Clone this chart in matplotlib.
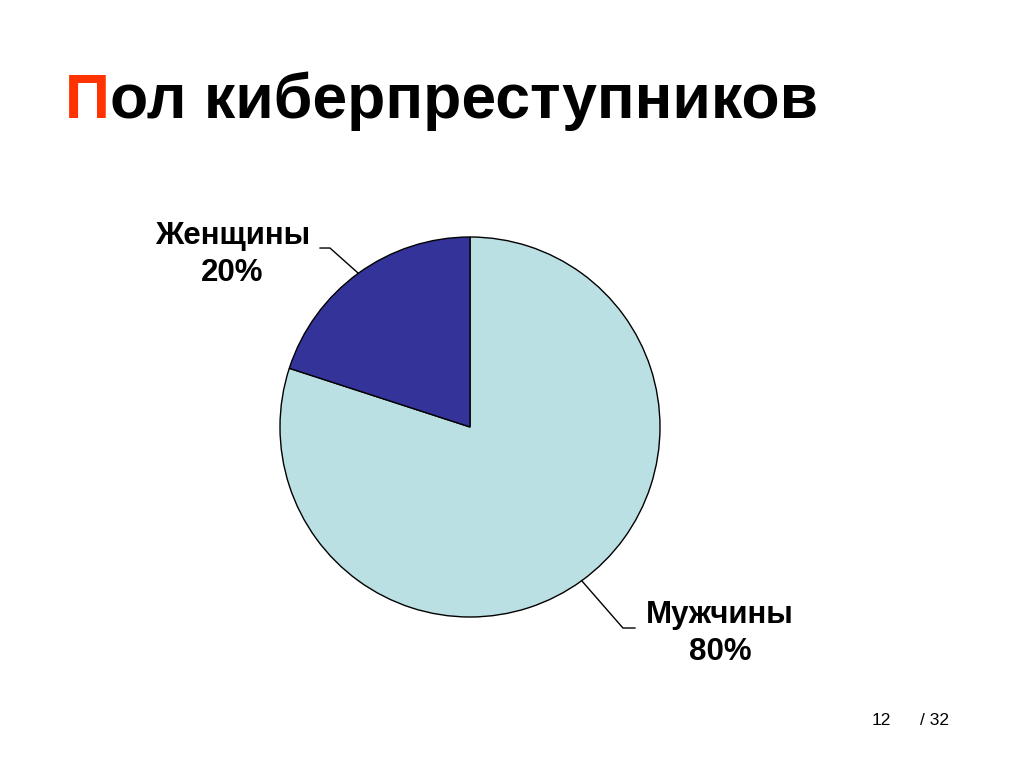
import numpy as np
import matplotlib
matplotlib.use('Agg')
import matplotlib.pyplot as plt

# Data
labels = ['Мужчины', 'Женщины']
shares = [80, 20]
colors = ['#BBE0E3', '#333399']
title = 'Пол киберпреступников'
page = '12'
total = '/ 32'

plt.rcParams['font.family'] = ['Liberation Sans', 'DejaVu Sans']

W, H = 1024, 767
fig = plt.figure(figsize=(W / 100, H / 100), dpi=100)

# pie axes: centre (470, 427) px, radius 190 px
cx, cy, r = 470, 427, 190
ax = fig.add_axes([(cx - r) / W, (H - cy - r) / H, 2 * r / W, 2 * r / H])
wedges, _ = ax.pie(shares, colors=colors, startangle=90, counterclock=False,
                   wedgeprops=dict(edgecolor='black', linewidth=1.0))
ax.set_xlim(-1, 1)
ax.set_ylim(-1, 1)
ax.set_aspect('equal')
ax.axis('off')

# leader lines and labels (offsets in radius units)
elbows = [(0.805, -1.058, 0.868), (-0.737, 0.942, -0.789)]
text_pos = [(1.316, -1.226), (-1.25, 0.768)]
for w, lab, val, (ex, ey, hx), (tx, ty) in zip(wedges, labels, shares, elbows, text_pos):
    mid = np.deg2rad((w.theta1 + w.theta2) / 2)
    px, py = np.cos(mid), np.sin(mid)
    ax.plot([px, ex, hx], [py, ey, ey], color='black', lw=1.0, clip_on=False)
    ax.text(tx, ty, f'{lab}\n{val}%', ha='center', va='baseline', fontsize=22.5,
            fontweight='bold', linespacing=1.3, multialignment='center')

# title: red first letter, rest in black right after it
ty_fig = (H - 118) / H
t1 = fig.text(65 / W, ty_fig, title[0], fontsize=45, fontweight='bold', color='#FF3300',
              va='baseline', ha='left')
renderer = fig.canvas.get_renderer()
bb = t1.get_window_extent(renderer)
fig.text(bb.x1 / W, ty_fig, title[1:], fontsize=45, fontweight='bold', color='black',
         va='baseline', ha='left')

# page numbers
fig.text(872 / W, (H - 725) / H, page, fontsize=12.5, va='baseline', ha='left')
fig.text(920 / W, (H - 725) / H, total, fontsize=12.5, va='baseline', ha='left')

fig.savefig('out.png', dpi=100, facecolor='white')
